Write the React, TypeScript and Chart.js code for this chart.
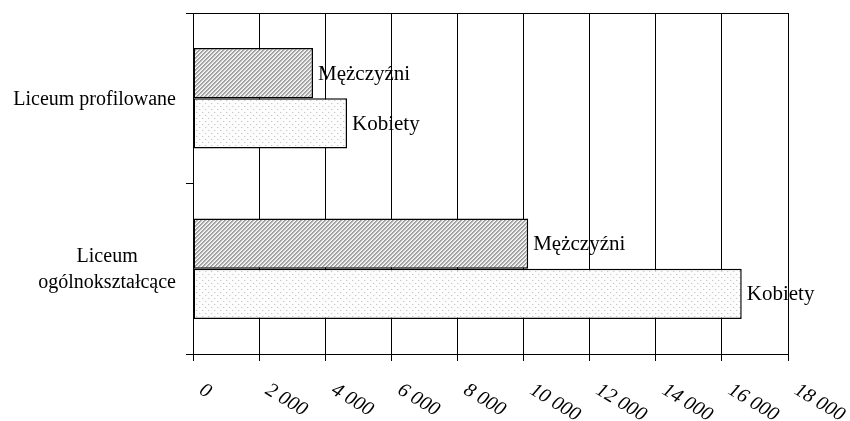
import { useEffect, useRef } from 'react';
import { Chart, registerables } from 'chart.js';

Chart.register(...registerables);

const categories: string[][] = [['Liceum profilowane'], ['Liceum', 'ogólnokształcące']];
const seriesNames = ['Mężczyźni', 'Kobiety'];
const menValues = [3630, 10140];
const womenValues = [4660, 16600];
const xTickLabels = ['0', '2 000', '4 000', '6 000', '8 000', '10 000', '12 000', '14 000', '16 000', '18 000'];

const FONT = 'Liberation Serif';

function makeHatch(): CanvasPattern | string {
  const c = document.createElement('canvas');
  c.width = 4;
  c.height = 4;
  const g = c.getContext('2d');
  if (!g) return '#bbb';
  const shades = ['#999999', '#b0b0b0', '#e0e0e0', '#fafafa'];
  for (let y = 0; y < 4; y++) {
    for (let x = 0; x < 4; x++) {
      g.fillStyle = shades[(x + y) % 4];
      g.fillRect(x, y, 1, 1);
    }
  }
  return g.createPattern(c, 'repeat') || '#bbb';
}

function makeDots(): CanvasPattern | string {
  const c = document.createElement('canvas');
  c.width = 6;
  c.height = 6;
  const g = c.getContext('2d');
  if (!g) return '#f0f0f0';
  g.fillStyle = '#fdfdfd';
  g.fillRect(0, 0, 6, 6);
  g.fillStyle = '#c8c8c8';
  g.fillRect(1, 1, 1, 1);
  g.fillRect(4, 4, 1, 1);
  g.fillStyle = '#ececec';
  g.fillRect(2, 1, 1, 1);
  g.fillRect(5, 4, 1, 1);
  return g.createPattern(c, 'repeat') || '#f0f0f0';
}

const labelsPlugin = {
  id: 'customLabels',
  afterDraw(chart: any) {
    const ctx = chart.ctx as CanvasRenderingContext2D;
    const xs = chart.scales.x;
    const ys = chart.scales.y;
    ctx.save();
    ctx.fillStyle = '#000';

    // x tick labels, rotated and italic
    ctx.font = `italic 20px "${FONT}"`;
    ctx.textAlign = 'left';
    ctx.textBaseline = 'top';
    xs.ticks.forEach((t: any, i: number) => {
      const px = xs.getPixelForValue(t.value);
      ctx.save();
      ctx.translate(px + 13, xs.top + 26);
      ctx.rotate((31 * Math.PI) / 180);
      ctx.fillText(xTickLabels[i] ?? String(t.value), 0, 0);
      ctx.restore();
    });

    // y category labels: block right-aligned, lines centered in the block
    ctx.font = `20px "${FONT}"`;
    ctx.textAlign = 'center';
    ctx.textBaseline = 'middle';
    const lh = 26;
    categories.forEach((lines, i) => {
      const cy = ys.getPixelForValue(i);
      const w = Math.max(...lines.map((l) => ctx.measureText(l).width));
      const right = ys.right - 17;
      const cx = right - w / 2;
      const y0 = cy - ((lines.length - 1) * lh) / 2 + 1;
      lines.forEach((l, k) => ctx.fillText(l, cx, y0 + k * lh));
    });

    // bar labels
    ctx.font = `21px "${FONT}"`;
    ctx.textAlign = 'left';
    ctx.textBaseline = 'middle';
    chart.data.datasets.forEach((ds: any, di: number) => {
      const meta = chart.getDatasetMeta(di);
      meta.data.forEach((el: any) => {
        ctx.fillText(seriesNames[di], el.x + 5, el.y + 1);
      });
    });
    ctx.restore();
  },
};

export default function App() {
  const ref = useRef<HTMLCanvasElement | null>(null);
  useEffect(() => {
    document.body.style.margin = '0';
    if (!ref.current) return;
    Chart.defaults.font.family = FONT;
    const chart = new Chart(ref.current, {
      type: 'bar',
      data: {
        labels: categories.map((c) => c.join(' ')),
        datasets: [
          {
            label: seriesNames[0],
            data: menValues,
            backgroundColor: makeHatch() as any,
            borderColor: '#000',
            borderWidth: 1.5,
            borderSkipped: false,
            categoryPercentage: 0.59,
            barPercentage: 1.0,
          },
          {
            label: seriesNames[1],
            data: womenValues,
            backgroundColor: makeDots() as any,
            borderColor: '#000',
            borderWidth: 1.5,
            borderSkipped: false,
            categoryPercentage: 0.59,
            barPercentage: 1.0,
          },
        ],
      },
      options: {
        indexAxis: 'y',
        animation: false,
        responsive: true,
        maintainAspectRatio: false,
        layout: { padding: { top: 13, right: 62, left: 0, bottom: 0 } },
        plugins: { legend: { display: false }, tooltip: { enabled: false } },
        scales: {
          x: {
            min: 0,
            max: 18000,
            ticks: { stepSize: 2000, display: false },
            grid: { color: '#000', lineWidth: 1, tickLength: 7, tickColor: '#000' },
            border: { color: '#000', width: 1 },
            afterFit: (s: any) => {
              s.height = 67;
            },
          },
          y: {
            ticks: { display: false },
            grid: {
              offset: true,
              tickLength: 7,
              tickColor: '#000',
              color: (c: any) => (c.index === 0 ? '#000' : 'rgba(0,0,0,0)'),
            },
            border: { color: '#000', width: 1 },
            afterFit: (s: any) => {
              s.width = 193;
            },
          },
        },
      },
      plugins: [labelsPlugin],
    });
    return () => chart.destroy();
  }, []);
  return (
    <div style={{ position: 'absolute', left: 0, top: 0, width: 850, height: 421 }}>
      <canvas ref={ref} width={850} height={421} />
    </div>
  );
}
